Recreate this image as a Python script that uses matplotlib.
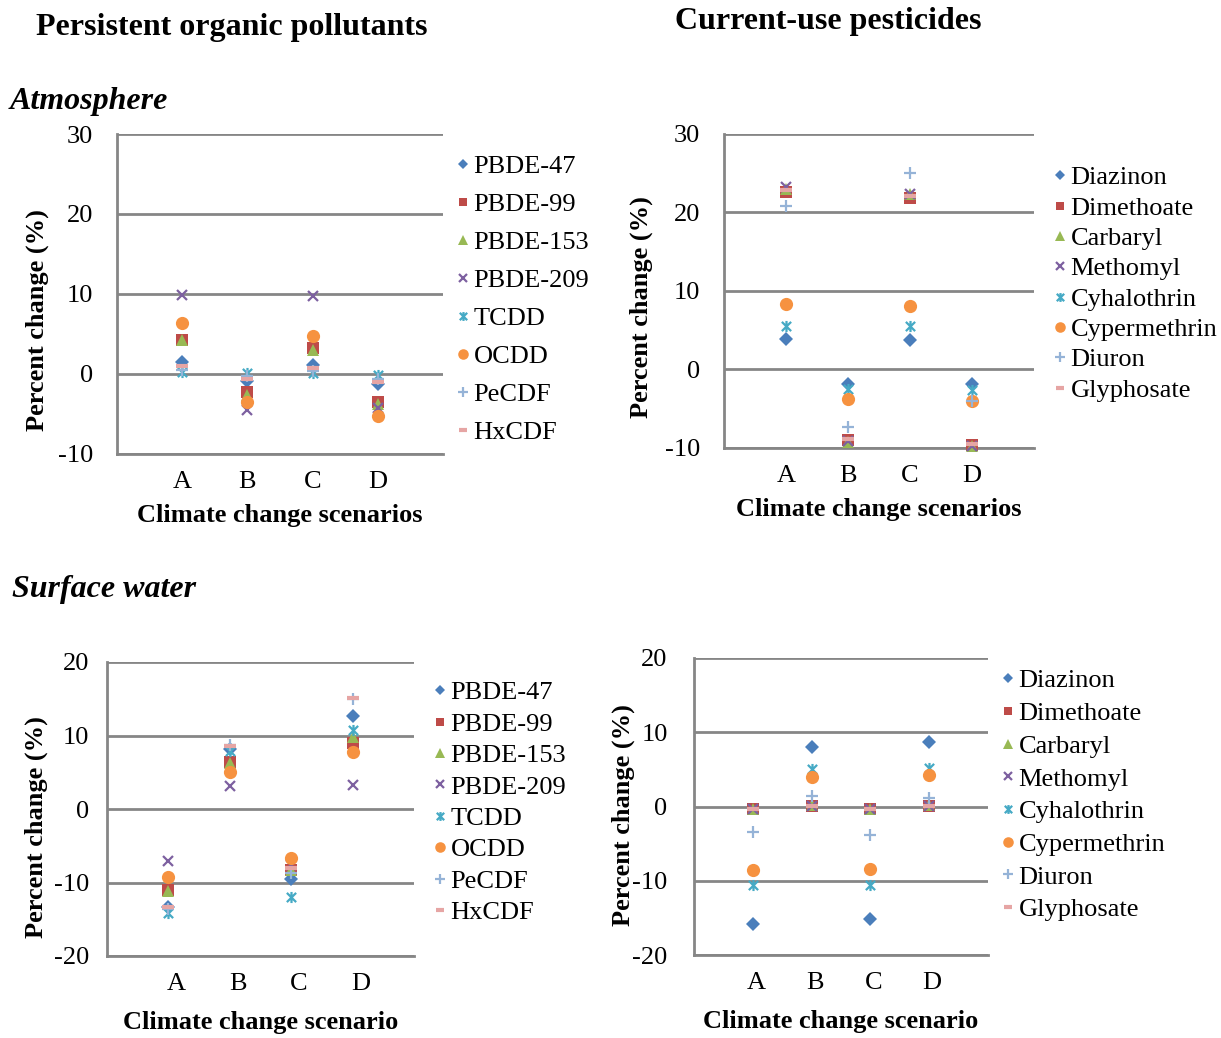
import numpy as np
import matplotlib
matplotlib.use('Agg')
import matplotlib.pyplot as plt
from matplotlib.path import Path

plt.rcParams['font.family'] = ['Liberation Serif', 'DejaVu Serif']
plt.rcParams['axes.unicode_minus'] = False

# ---- Data ------------------------------------------------------------
SCENARIOS = ['A', 'B', 'C', 'D']

POP_NAMES = ['PBDE-47', 'PBDE-99', 'PBDE-153', 'PBDE-209',
             'TCDD', 'OCDD', 'PeCDF', 'HxCDF']
CUP_NAMES = ['Diazinon', 'Dimethoate', 'Carbaryl', 'Methomyl',
             'Cyhalothrin', 'Cypermethrin', 'Diuron', 'Glyphosate']

# Atmosphere, persistent organic pollutants (% change per scenario A-D)
air_pbde47  = [1.5, -0.9, 1.1, -1.3]
air_pbde99  = [4.3, -2.3, 3.3, -3.5]
air_pbde153 = [4.2, -2.6, 3.0, -3.8]
air_pbde209 = [9.9, -4.5, 9.7, -4.3]
air_tcdd    = [0.3, 0.1, 0.1, -0.1]
air_ocdd    = [6.4, -3.5, 4.7, -5.3]
air_pecdf   = [0.5, -0.2, 0.4, -0.6]
air_hxcdf   = [1.0, -0.6, 0.7, -1.0]

# Atmosphere, current-use pesticides
air_diazinon     = [3.9, -1.8, 3.7, -1.9]
air_dimethoate   = [22.6, -9.0, 21.8, -9.6]
air_carbaryl     = [23.0, -9.2, 22.4, -9.8]
air_methomyl     = [23.2, -9.1, 22.3, -9.7]
air_cyhalothrin  = [5.6, -2.5, 5.6, -2.6]
air_cypermethrin = [8.3, -3.8, 8.1, -4.0]
air_diuron       = [20.8, -7.3, 25.0, -4.0]
air_glyphosate   = [22.9, -8.9, 22.1, -9.5]

# Surface water, persistent organic pollutants
wat_pbde47  = [-13.3, 8.1, -9.5, 12.6]
wat_pbde99  = [-11.0, 6.4, -8.3, 9.0]
wat_pbde153 = [-11.1, 6.3, -8.3, 9.8]
wat_pbde209 = [-7.1, 3.1, -7.6, 3.2]
wat_tcdd    = [-14.2, 7.9, -12.0, 10.8]
wat_ocdd    = [-9.3, 5.0, -6.7, 7.8]
wat_pecdf   = [-13.6, 8.7, -8.7, 15.0]
wat_hxcdf   = [-13.4, 8.6, -8.0, 15.1]

# Surface water, current-use pesticides
wat_diazinon     = [-15.8, 8.0, -15.2, 8.7]
wat_dimethoate   = [-0.4, 0.1, -0.4, 0.1]
wat_carbaryl     = [-0.3, 0.2, -0.3, 0.2]
wat_methomyl     = [-0.3, 0.1, -0.3, 0.1]
wat_cyhalothrin  = [-10.6, 5.1, -10.6, 5.2]
wat_cypermethrin = [-8.6, 4.0, -8.4, 4.2]
wat_diuron       = [-3.5, 1.4, -3.8, 1.2]
wat_glyphosate   = [-0.4, 0.1, -0.4, 0.1]

# ---- Marker styles (Excel-like series defaults) ----------------------
STAR = Path([(-1, -1), (1, 1), (-1, 1), (1, -1), (0, -1.2), (0, 1.2)],
            [Path.MOVETO, Path.LINETO, Path.MOVETO, Path.LINETO,
             Path.MOVETO, Path.LINETO])

STYLES = [
    dict(marker='D', color='#4A7EBB', ms=7.0, mew=0),
    dict(marker='s', color='#BE4B48', ms=8.0, mew=0),
    dict(marker='^', color='#98B954', ms=8.5, mew=0),
    dict(marker='x', color='#7D60A0', ms=7.5, mew=1.6),
    dict(marker=STAR, color='#46AAC5', ms=8.0, mew=1.6),
    dict(marker='o', color='#F69240', ms=9.5, mew=0),
    dict(marker='+', color='#95B3D7', ms=9.0, mew=1.6),
    dict(marker='_', color='#E6A5A4', ms=8.0, mew=3.0),
]

GRID_COLOR = '#868686'
X = np.arange(1, 5)


def draw_panel(fig, rect, names, series, ylim, yticks, xlabel,
               tick_pad, label_xy, legend_xy, legend_spacing,
               xoff=0.0, xlabel_pad=8):
    ax = fig.add_axes(rect)
    for name, vals, st in zip(names, series, STYLES):
        ax.plot(X, vals, linestyle='none', marker=st['marker'],
                color=st['color'], markersize=st['ms'],
                markeredgewidth=st['mew'], markeredgecolor=st['color'],
                label=name, clip_on=False, zorder=3)
    ax.set_xlim(0, 5)
    ax.set_ylim(*ylim)
    ax.set_yticks(yticks)
    ax.set_xticks(X + xoff)
    ax.set_xticklabels(SCENARIOS)
    ax.tick_params(axis='both', length=0, labelsize=19)
    ax.tick_params(axis='y', pad=tick_pad)
    ax.tick_params(axis='x', pad=12)
    ax.grid(axis='y', color=GRID_COLOR, linewidth=2.0)
    ax.set_axisbelow(True)
    for side in ('top', 'right'):
        ax.spines[side].set_visible(False)
    for side in ('left', 'bottom'):
        ax.spines[side].set_color(GRID_COLOR)
        ax.spines[side].set_linewidth(2.0)
    ax.set_xlabel(xlabel, fontsize=19, fontweight='bold', labelpad=xlabel_pad)
    ax.set_ylabel('Percent change (%)', fontsize=19, fontweight='bold')
    ax.yaxis.set_label_coords(*label_xy)
    ax.legend(loc='upper left', bbox_to_anchor=legend_xy,
              bbox_transform=fig.transFigure, frameon=False,
              fontsize=19, handlelength=0.6, handletextpad=0.1,
              labelspacing=legend_spacing, borderaxespad=0,
              borderpad=0, markerscale=0.8)
    return ax


W, H = 1221, 1038
fig = plt.figure(figsize=(W / 100, H / 100), dpi=100)


def px_rect(left, top, right, bottom):
    return [left / W, 1 - bottom / H, (right - left) / W, (bottom - top) / H]


pop_air = [air_pbde47, air_pbde99, air_pbde153, air_pbde209,
           air_tcdd, air_ocdd, air_pecdf, air_hxcdf]
cup_air = [air_diazinon, air_dimethoate, air_carbaryl, air_methomyl,
           air_cyhalothrin, air_cypermethrin, air_diuron, air_glyphosate]
pop_wat = [wat_pbde47, wat_pbde99, wat_pbde153, wat_pbde209,
           wat_tcdd, wat_ocdd, wat_pecdf, wat_hxcdf]
cup_wat = [wat_diazinon, wat_dimethoate, wat_carbaryl, wat_methomyl,
           wat_cyhalothrin, wat_cypermethrin, wat_diuron, wat_glyphosate]

draw_panel(fig, px_rect(117, 134, 443, 454), POP_NAMES, pop_air,
           (-10, 30), [-10, 0, 10, 20, 30], 'Climate change scenarios',
           tick_pad=17, label_xy=(-0.209, 0.42),
           legend_xy=(455 / W, 1 - 155 / H), legend_spacing=0.55)

draw_panel(fig, px_rect(724, 134, 1034, 448), CUP_NAMES, cup_air,
           (-10, 30), [-10, 0, 10, 20, 30], 'Climate change scenarios',
           tick_pad=17, label_xy=(-0.228, 0.45),
           legend_xy=(1052 / W, 1 - 166 / H), legend_spacing=0.26)

draw_panel(fig, px_rect(107, 662, 414, 956), POP_NAMES, pop_wat,
           (-20, 20), [-20, -10, 0, 10, 20], 'Climate change scenario',
           tick_pad=13, label_xy=(-0.193, 0.44),
           legend_xy=(432 / W, 1 - 681 / H), legend_spacing=0.30,
           xoff=0.13, xlabel_pad=12)

draw_panel(fig, px_rect(694, 658, 988, 955), CUP_NAMES, cup_wat,
           (-20, 20), [-20, -10, 0, 10, 20], 'Climate change scenario',
           tick_pad=19, label_xy=(-0.202, 0.47),
           legend_xy=(1000 / W, 1 - 669 / H), legend_spacing=0.35,
           xoff=0.05, xlabel_pad=12)

fig.text(232 / W, 1 - 28 / H, 'Persistent organic pollutants',
         fontsize=23, fontweight='bold', ha='center', va='center')
fig.text(828 / W, 1 - 22 / H, 'Current-use pesticides',
         fontsize=23, fontweight='bold', ha='center', va='center')
fig.text(10 / W, 1 - 101 / H, 'Atmosphere', fontsize=23,
         fontweight='bold', fontstyle='italic', ha='left', va='center')
fig.text(12 / W, 1 - 589 / H, 'Surface water', fontsize=23,
         fontweight='bold', fontstyle='italic', ha='left', va='center')

fig.savefig('out.png', dpi=100)
